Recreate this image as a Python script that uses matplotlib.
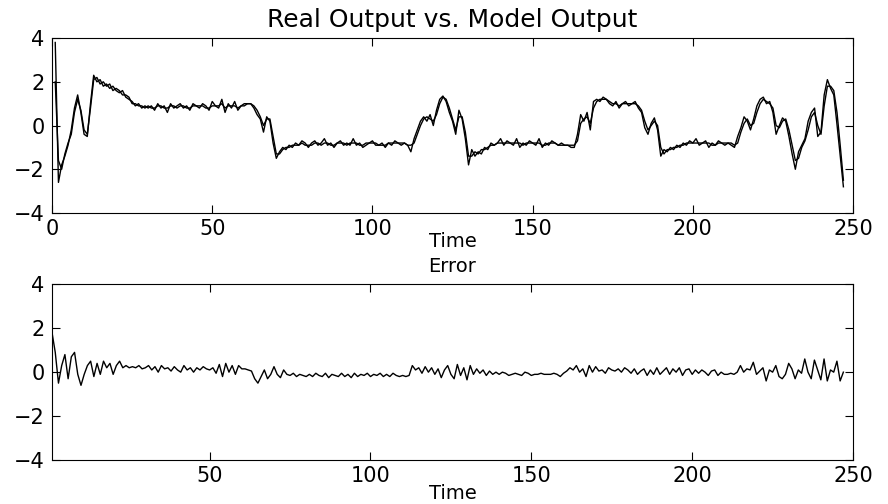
import numpy as np
import matplotlib
matplotlib.use('Agg')
import matplotlib.pyplot as plt

# real process output (one value per sample, t = 1..247)
real_output = [
    3.8, -2.6, -1.8, -1.4, -0.9, -0.2, 0.8, 1.4, 0.6, -0.4,
    -0.5, 1.0, 2.3, 2.0, 2.1, 1.8, 1.9, 1.7, 1.8, 1.6,
    1.5, 1.6, 1.3, 1.2, 1.1, 0.9, 1.0, 0.8, 0.9, 0.8,
    0.9, 0.7, 1.0, 0.8, 0.9, 0.6, 1.0, 0.8, 0.9, 1.0,
    0.8, 0.9, 0.7, 1.0, 0.9, 0.8, 1.0, 0.9, 0.7, 1.1,
    0.9, 0.8, 1.2, 0.6, 1.0, 0.8, 1.1, 0.7, 0.9, 1.0,
    1.0, 1.0, 0.8, 0.5, 0.3, -0.3, 0.4, 0.2, -0.8, -1.5,
    -1.2, -1.0, -1.1, -0.9, -1.0, -0.8, -0.9, -0.7, -0.8, -1.0,
    -0.8, -0.7, -0.9, -0.8, -0.6, -0.9, -0.8, -1.0, -0.8, -0.7,
    -0.9, -0.8, -0.9, -0.6, -0.9, -0.8, -1.0, -0.9, -0.8, -0.7,
    -0.9, -0.9, -0.8, -1.0, -0.8, -0.9, -0.7, -0.8, -0.9, -0.8,
    -0.9, -1.2, -0.6, -0.2, 0.2, 0.4, 0.2, 0.5, 0.0, 0.7,
    1.2, 1.35, 1.1, 0.6, 0.2, -0.4, 0.7, 0.3, -0.6, -1.8,
    -1.1, -1.4, -1.2, -1.3, -1.0, -1.1, -0.8, -0.9, -0.8, -0.6,
    -0.9, -0.7, -0.8, -0.9, -0.6, -1.0, -0.8, -0.9, -0.7, -0.8,
    -0.9, -0.6, -1.0, -0.8, -0.9, -0.7, -0.8, -0.9, -0.8, -0.9,
    -0.9, -1.0, -1.0, -0.4, 0.5, 0.2, 0.6, -0.2, 1.1, 1.2,
    1.1, 1.3, 1.2, 1.0, 0.9, 1.1, 0.8, 1.0, 1.1, 0.9,
    1.0, 1.1, 0.8, 0.6, -0.1, -0.4, 0.1, 0.35, -0.2, -1.4,
    -1.1, -1.2, -1.0, -1.1, -0.9, -1.0, -0.8, -0.9, -0.7, -0.8,
    -0.6, -0.9, -0.8, -0.7, -1.0, -0.8, -0.9, -0.7, -0.8, -0.9,
    -0.8, -0.9, -1.0, -0.5, -0.1, 0.4, 0.2, -0.2, 0.3, 0.9,
    1.2, 1.3, 1.0, 1.1, 0.6, -0.4, 0.0, 0.35, 0.2, -0.5,
    -1.3, -2.0, -1.2, -0.9, -0.6, 0.2, 0.6, 0.8, -0.5, -0.3,
    1.4, 2.1, 1.7, 1.4, 0.05, -1.4, -2.8,
]

# model output, the smoother of the two upper traces
model_output = [
    2.0, -1.6, -2.0, -1.3, -0.8, -0.4, 0.6, 1.2, 0.7, -0.2,
    -0.4, 0.8, 2.1, 2.2, 1.9, 2.0, 1.8, 1.9, 1.6, 1.7,
    1.6, 1.4, 1.4, 1.3, 1.0, 1.0, 0.9, 0.9, 0.8, 0.9,
    0.8, 0.8, 0.9, 0.9, 0.8, 0.8, 0.9, 0.9, 0.8, 0.9,
    0.9, 0.8, 0.8, 0.9, 0.9, 0.9, 0.9, 0.8, 0.8, 0.9,
    0.9, 0.9, 1.0, 0.8, 0.9, 0.9, 0.9, 0.8, 0.9, 0.9,
    1.0, 1.0, 0.9, 0.7, 0.4, 0.0, 0.3, 0.3, -0.5, -1.3,
    -1.3, -1.1, -1.0, -1.0, -0.9, -0.9, -0.9, -0.8, -0.9, -0.9,
    -0.9, -0.8, -0.8, -0.9, -0.8, -0.8, -0.9, -0.9, -0.8, -0.8,
    -0.8, -0.9, -0.8, -0.8, -0.8, -0.9, -0.9, -0.8, -0.8, -0.8,
    -0.8, -0.9, -0.9, -0.9, -0.8, -0.8, -0.8, -0.8, -0.8, -0.8,
    -0.9, -0.9, -0.8, -0.4, 0.0, 0.3, 0.4, 0.3, 0.2, 0.5,
    1.0, 1.3, 1.2, 0.8, 0.3, -0.2, 0.4, 0.4, -0.3, -1.4,
    -1.4, -1.2, -1.3, -1.1, -1.1, -1.0, -0.9, -0.9, -0.8, -0.8,
    -0.8, -0.8, -0.8, -0.8, -0.8, -0.8, -0.9, -0.8, -0.8, -0.8,
    -0.8, -0.8, -0.9, -0.9, -0.8, -0.8, -0.8, -0.9, -0.9, -0.9,
    -0.9, -0.9, -0.9, -0.7, 0.1, 0.3, 0.4, 0.1, 0.8, 1.1,
    1.2, 1.2, 1.2, 1.1, 1.0, 1.0, 0.9, 1.0, 1.0, 1.0,
    1.0, 1.0, 0.9, 0.7, 0.2, -0.2, 0.0, 0.2, 0.0, -1.0,
    -1.3, -1.1, -1.1, -1.0, -1.0, -0.9, -0.9, -0.8, -0.8, -0.8,
    -0.8, -0.8, -0.8, -0.8, -0.8, -0.9, -0.9, -0.8, -0.8, -0.8,
    -0.8, -0.8, -0.9, -0.8, -0.3, 0.1, 0.3, 0.0, 0.1, 0.6,
    1.0, 1.2, 1.1, 1.0, 0.8, 0.0, -0.1, 0.2, 0.3, -0.2,
    -0.9, -1.6, -1.5, -1.0, -0.7, -0.2, 0.4, 0.6, 0.0, -0.4,
    0.9, 1.8, 1.8, 1.6, 0.6, -0.9, -2.5,
]

# prediction error
error = [
    1.8, 0.9, -0.5, 0.3, 0.8, -0.3, 0.7, 0.9, -0.1, -0.6,
    -0.1, 0.3, 0.5, -0.2, 0.4, -0.1, 0.5, 0.2, 0.4, -0.1,
    0.3, 0.5, 0.2, 0.3, 0.2, 0.25, 0.2, 0.3, 0.15, 0.2,
    0.3, 0.1, 0.25, 0.0, 0.3, 0.15, 0.2, 0.05, 0.25, 0.1,
    0.0, 0.3, 0.1, 0.2, 0.0, 0.2, 0.1, 0.25, 0.15, 0.1,
    0.2, -0.05, 0.35, -0.2, 0.4, 0.0, 0.3, -0.1, 0.3, 0.15,
    0.15, 0.1, 0.05, -0.3, -0.5, -0.2, 0.1, -0.3, -0.1, 0.25,
    -0.1, -0.25, 0.1, -0.1, -0.15, -0.05, -0.2, -0.1, -0.15, -0.2,
    -0.1, -0.2, -0.05, -0.15, -0.2, -0.05, -0.25, -0.1, -0.15, -0.2,
    -0.05, -0.2, -0.1, -0.25, -0.05, -0.2, -0.1, -0.15, -0.05, -0.2,
    -0.1, -0.15, -0.05, -0.2, -0.1, -0.2, -0.05, -0.15, -0.2, -0.15,
    -0.2, -0.15, 0.3, 0.1, 0.2, -0.05, 0.25, 0.0, 0.2, -0.1,
    0.15, -0.25, 0.1, 0.3, -0.1, -0.3, 0.35, -0.15, 0.2, -0.35,
    0.3, -0.1, 0.15, -0.05, 0.1, -0.15, 0.05, -0.1, 0.0, -0.1,
    0.0, -0.05, -0.15, -0.1, -0.05, -0.1, -0.15, 0.0, -0.05, -0.15,
    -0.1, -0.1, -0.05, -0.1, -0.1, -0.1, -0.05, -0.1, -0.2, -0.05,
    0.05, 0.2, 0.1, 0.3, 0.0, 0.15, -0.2, 0.3, 0.0, 0.25,
    0.05, 0.1, -0.05, 0.2, 0.1, 0.05, 0.15, 0.0, 0.2, 0.1,
    -0.05, 0.15, -0.1, 0.05, 0.15, -0.15, 0.1, -0.1, 0.2, -0.1,
    0.05, 0.2, -0.1, 0.15, 0.0, 0.2, -0.15, 0.1, 0.15, -0.1,
    0.1, -0.05, 0.1, 0.0, -0.15, 0.05, 0.1, -0.15, 0.0, -0.1,
    -0.1, -0.05, -0.1, 0.0, 0.3, 0.0, 0.15, 0.1, 0.45, -0.1,
    0.05, 0.2, -0.4, 0.1, 0.0, 0.3, -0.2, -0.3, -0.1, 0.4,
    0.15, -0.3, 0.1, -0.05, 0.6, 0.0, -0.3, 0.55, 0.1, -0.35,
    0.6, -0.4, 0.1, 0.0, 0.5, -0.4, 0.0,
]

time = np.arange(1, len(real_output) + 1)

plt.rcParams['font.family'] = ['DejaVu Sans']
plt.rcParams['font.size'] = 15

fig = plt.figure(figsize=(8.88, 5.04), dpi=100)
ax1 = fig.add_axes([0.0586, 0.5774, 0.902, 0.347])
ax2 = fig.add_axes([0.0586, 0.0873, 0.902, 0.3486])

ax1.plot(time, real_output, color='k', linewidth=1.0)
ax1.plot(time, model_output, color='k', linewidth=1.0)
ax1.set_xlim(0, 250)
ax1.set_ylim(-4, 4)
ax1.set_xticks([0, 50, 100, 150, 200, 250])
ax1.set_yticks([-4, -2, 0, 2, 4])
ax1.set_xlabel('Time', fontsize=14, labelpad=-5)
ax1.set_title('Real Output vs. Model Output', pad=8)

ax2.plot(time, error, color='k', linewidth=1.0)
ax2.set_xlim(1, 250)
ax2.set_ylim(-4, 4)
ax2.set_xticks([50, 100, 150, 200, 250])
ax2.set_yticks([-4, -2, 0, 2, 4])
ax2.set_xlabel('Time', fontsize=14, labelpad=-1)
ax2.set_title('Error', fontsize=14, pad=9)

for ax in (ax1, ax2):
    ax.tick_params(direction='in', length=6, width=0.8, top=True, right=True)
    ax.tick_params(axis='x', pad=4)
    ax.tick_params(axis='y', pad=5.5)
    for s in ax.spines.values():
        s.set_linewidth(0.8)

fig.savefig('out.png', dpi=100)
